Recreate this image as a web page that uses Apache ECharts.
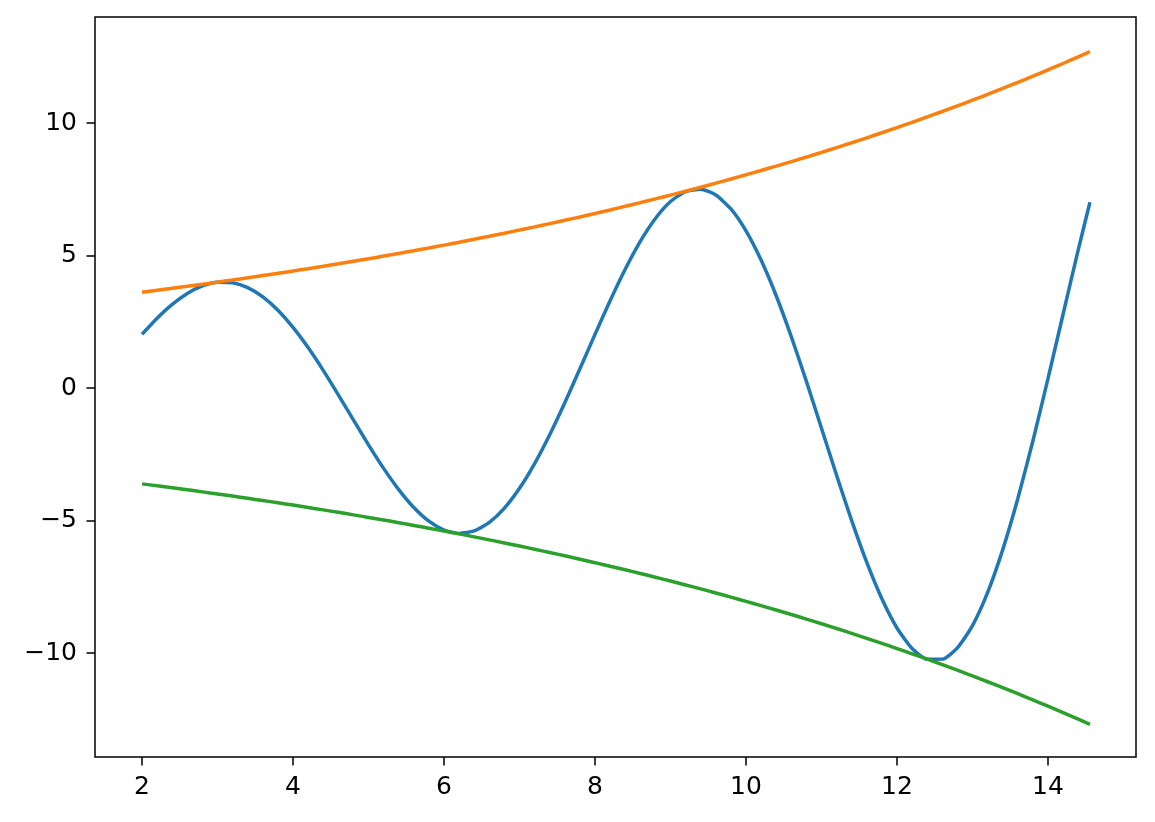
<!DOCTYPE html>
<html>
<head>
<meta charset="utf-8">
<script src="https://cdn.jsdelivr.net/npm/echarts@6/dist/echarts.min.js"></script>
<style>html,body{margin:0;padding:0;background:#fff}#c{width:1155px;height:822px}</style>
</head>
<body>
<div id="c"></div>
<script>
const xs = [2.0,2.2,2.4,2.6,2.8,3.0,3.2,3.4,3.6,3.8,4.0,4.2,4.4,4.6,4.8,5.0,5.2,5.4,5.6,5.8,6.0,6.2,6.4,6.6,6.8,7.0,7.2,7.4,7.6,7.8,8.0,8.2,8.4,8.6,8.8,9.0,9.2,9.4,9.6,9.8,10.0,10.2,10.4,10.6,10.8,11.0,11.2,11.4,11.6,11.8,12.0,12.2,12.4,12.6,12.8,13.0,13.2,13.4,13.6,13.8,14.0,14.2,14.4,14.556];
const wave = [2.029,2.635,3.158,3.572,3.857,3.994,3.974,3.789,3.441,2.937,2.292,1.527,0.668,-0.254,-1.203,-2.141,-3.030,-3.830,-4.506,-5.024,-5.357,-5.483,-5.390,-5.071,-4.531,-3.782,-2.848,-1.759,-0.555,0.726,2.026,3.296,4.483,5.534,6.400,7.039,7.415,7.501,7.283,6.757,5.932,4.829,3.483,1.939,0.253,-1.513,-3.289,-5.002,-6.580,-7.952,-9.053,-9.827,-10.229,-10.227,-9.805,-8.963,-7.718,-6.106,-4.177,-1.997,0.353,2.785,5.202,7.012];
const upper = [3.615,3.688,3.763,3.839,3.917,3.996,4.076,4.159,4.243,4.328,4.416,4.505,4.596,4.689,4.784,4.880,4.979,5.079,5.182,5.287,5.394,5.502,5.614,5.727,5.843,5.961,6.081,6.204,6.329,6.457,6.588,6.721,6.857,6.995,7.136,7.280,7.428,7.578,7.731,7.887,8.046,8.209,8.375,8.544,8.716,8.892,9.072,9.255,9.442,9.633,9.828,10.026,10.229,10.435,10.646,10.861,11.081,11.304,11.533,11.766,12.003,12.246,12.493,12.690];
const lower = [-3.615,-3.688,-3.763,-3.839,-3.917,-3.996,-4.076,-4.159,-4.243,-4.328,-4.416,-4.505,-4.596,-4.689,-4.784,-4.880,-4.979,-5.079,-5.182,-5.287,-5.394,-5.502,-5.614,-5.727,-5.843,-5.961,-6.081,-6.204,-6.329,-6.457,-6.588,-6.721,-6.857,-6.995,-7.136,-7.280,-7.428,-7.578,-7.731,-7.887,-8.046,-8.209,-8.375,-8.544,-8.716,-8.892,-9.072,-9.255,-9.442,-9.633,-9.828,-10.026,-10.229,-10.435,-10.646,-10.861,-11.081,-11.304,-11.533,-11.766,-12.003,-12.246,-12.493,-12.690];
const xTicks = [2,4,6,8,10,12,14];
const yTicks = [-10,-5,0,5,10];

const pairs = ys => xs.map((x,i)=>[x,ys[i]]);
const fmt = v => String(v).replace('-', '\u2212');
const font = {fontFamily:'DejaVu Sans', fontSize:25, color:'#000'};
const chart = echarts.init(document.getElementById('c'), null, {renderer:'canvas'});
const mk = (name, ys, color) => ({name, type:'line', data:pairs(ys), showSymbol:false, smooth:0.2,
  lineStyle:{color, width:3.5}, itemStyle:{color}, animation:false, silent:true});
chart.setOption({
  animation:false,
  backgroundColor:'#fff',
  grid:{left:95, right:19, top:17, bottom:65, show:true, borderColor:'#000', borderWidth:1.5, backgroundColor:'transparent'},
  xAxis:{type:'value', min:1.377, max:15.166,
    axisLine:{show:false, onZero:false}, splitLine:{show:false},
    axisTick:{show:true, customValues:xTicks, length:8.5, inside:false, lineStyle:{color:'#000', width:1.5}},
    axisLabel:{customValues:xTicks, formatter:fmt, margin:18, ...font}},
  yAxis:{type:'value', min:-13.92, max:14.0,
    axisLine:{show:false, onZero:false}, splitLine:{show:false},
    axisTick:{show:true, customValues:yTicks, length:8.5, inside:false, lineStyle:{color:'#000', width:1.5}},
    axisLabel:{customValues:yTicks, formatter:fmt, margin:18, ...font}},
  series:[mk('wave', wave, '#1f77b4'), mk('upper', upper, '#ff7f0e'), mk('lower', lower, '#2ca02c')]
});
</script>
</body>
</html>
